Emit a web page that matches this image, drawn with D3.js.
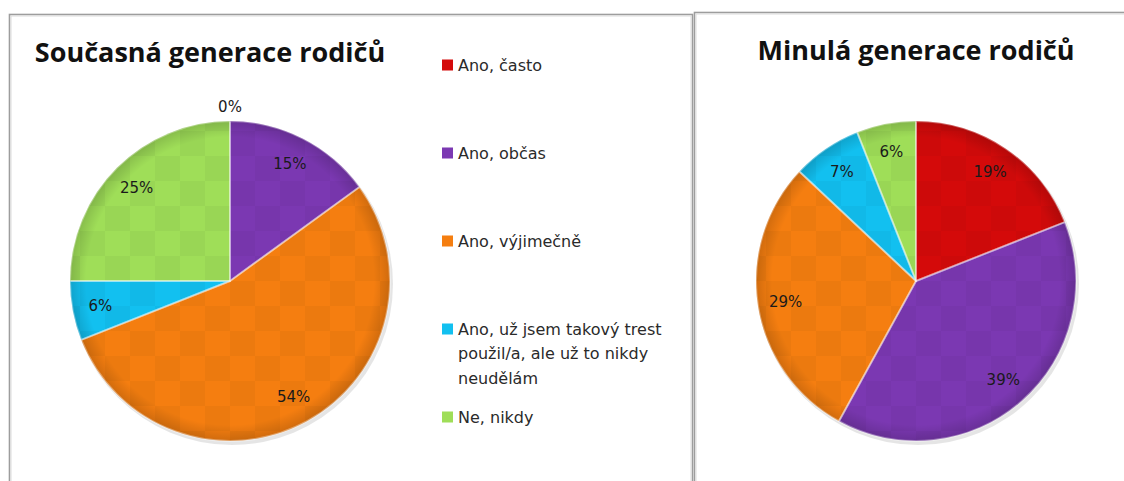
<!DOCTYPE html>
<html>
<head>
<meta charset="utf-8">
<script src="https://cdn.jsdelivr.net/npm/d3@7"></script>
<style>
  body { margin: 0; background: #fff; }
  svg { display: block; }
</style>
</head>
<body>
<div id="chart"></div>
<script>
// categories and values
const categories = ["Ano, často", "Ano, občas", "Ano, výjimečně",
  "Ano, už jsem takový trest použil/a, ale už to nikdy neudělám", "Ne, nikdy"];
const legendLines = [["Ano, často"], ["Ano, občas"], ["Ano, výjimečně"],
  ["Ano, už jsem takový trest", "použil/a, ale už to nikdy", "neudělám"], ["Ne, nikdy"]];
const current = [0, 15, 54, 6, 25];
const past = [19, 39, 29, 7, 6];
const titles = ["Současná generace rodičů", "Minulá generace rodičů"];
const colors = ["#d40a0a", "#7b38b2", "#f57e10", "#12c0f0", "#9fde58"];

const width = 1124, height = 481;

const svg = d3.select("#chart")
  .append("svg")
  .attr("width", width)
  .attr("height", height);

const defs = svg.append("defs");

// faint checker texture like the original
const pat = defs.append("pattern")
  .attr("id", "checker")
  .attr("patternUnits", "userSpaceOnUse")
  .attr("width", 50).attr("height", 50);
pat.append("rect").attr("width", 25).attr("height", 25).attr("fill", "#000").attr("opacity", 0.035);
pat.append("rect").attr("x", 25).attr("y", 25).attr("width", 25).attr("height", 25).attr("fill", "#000").attr("opacity", 0.035);

const rim = defs.append("radialGradient").attr("id", "rim");
rim.append("stop").attr("offset", "0.9").attr("stop-color", "#000").attr("stop-opacity", 0);
rim.append("stop").attr("offset", "1").attr("stop-color", "#000").attr("stop-opacity", 0.15);

// panel frames
const frames = [
  { x: 9.5, y: 14.5, w: 683 },
  { x: 694.5, y: 12.5, w: 460 }
];
frames.forEach(f => {
  svg.append("rect")
    .attr("x", f.x).attr("y", f.y)
    .attr("width", f.w).attr("height", height + 20)
    .attr("fill", "none")
    .attr("stroke", "#9d9d9d")
    .attr("stroke-width", 1.6);
  svg.append("rect")
    .attr("x", f.x + 1.5).attr("y", f.y + 1.5)
    .attr("width", f.w - 3).attr("height", height + 20)
    .attr("fill", "none")
    .attr("stroke", "#dcdcdc")
    .attr("stroke-width", 1);
});

const radius = 160;
const pie = d3.pie().sort(null).value(d => d);
const arc = d3.arc().innerRadius(0).outerRadius(radius);
const labelArc = d3.arc().innerRadius(132).outerRadius(132);

function drawPie(values, cx, cy, title, tx, ty) {
  svg.append("text")
    .attr("x", tx).attr("y", ty)
    .attr("text-anchor", "middle")
    .attr("font-family", "'Open Sans', Lato, sans-serif")
    .attr("font-weight", 700)
    .attr("font-size", 27)
    .attr("fill", "#111")
    .text(title);

  const g = svg.append("g").attr("transform", `translate(${cx},${cy})`);
  const arcs = pie(values);

  // soft shadow
  g.append("circle")
    .attr("cx", 2).attr("cy", 3).attr("r", radius + 1)
    .attr("fill", "#000").attr("opacity", 0.1);

  g.selectAll("path.slice")
    .data(arcs)
    .join("path")
    .attr("class", "slice")
    .attr("d", arc)
    .attr("fill", (d, i) => colors[i]);

  g.append("circle").attr("r", radius).attr("fill", "url(#checker)");
  g.append("circle").attr("r", radius).attr("fill", "url(#rim)");

  // bevel edges
  g.selectAll("path.bevel")
    .data(arcs.filter(d => d.value > 0))
    .join("path")
    .attr("class", "bevel")
    .attr("d", arc)
    .attr("fill", "none")
    .attr("stroke", "#fff")
    .attr("stroke-opacity", 0.35)
    .attr("stroke-width", 2)
    .attr("stroke-linejoin", "round");

  g.selectAll("text.lbl")
    .data(arcs)
    .join("text")
    .attr("class", "lbl")
    .attr("transform", d => {
      if (d.value === 0) return `translate(0,${-radius - 14})`;
      return `translate(${labelArc.centroid(d)})`;
    })
    .attr("text-anchor", "middle")
    .attr("dy", "0.35em")
    .attr("font-family", "'DejaVu Sans', sans-serif")
    .attr("font-size", 15)
    .attr("fill", "#1a1a1a")
    .text(d => d.value + "%");
}

drawPie(current, 230, 281, titles[0], 210, 62);
drawPie(past, 916, 281, titles[1], 916, 60);

// legend
const legend = svg.append("g");
legendLines.forEach((lines, i) => {
  const y = 65 + i * 88;
  legend.append("rect")
    .attr("x", 442).attr("y", y - 5.5)
    .attr("width", 11).attr("height", 11)
    .attr("fill", colors[i]);
  legend.append("text")
    .attr("x", 458).attr("y", y)
    .attr("font-family", "'DejaVu Sans', sans-serif")
    .attr("font-size", 16)
    .attr("fill", "#2a2a2a")
    .selectAll("tspan")
    .data(lines)
    .join("tspan")
    .attr("x", 458)
    .attr("dy", (d, j) => j === 0 ? "0.35em" : "1.55em")
    .text(d => d);
});
</script>
</body>
</html>
